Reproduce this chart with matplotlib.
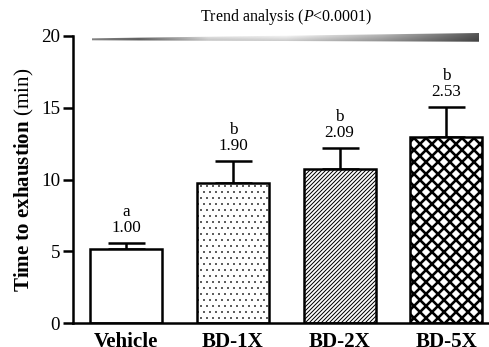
import numpy as np
import matplotlib.pyplot as plt
from matplotlib.patches import Polygon

plt.rcParams["font.family"] = ["Liberation Serif", "DejaVu Serif"]
plt.rcParams["mathtext.fontset"] = "custom"
plt.rcParams["mathtext.rm"] = "Liberation Serif"
plt.rcParams["mathtext.it"] = "Liberation Serif:italic"
plt.rcParams["mathtext.bf"] = "Liberation Serif:bold"

groups = ["Vehicle", "BD-1X", "BD-2X", "BD-5X"]
means = [5.13, 9.75, 10.72, 12.98]
sems = [0.45, 1.55, 1.45, 2.05]
letters = ["a", "b", "b", "b"]
fold = ["1.00", "1.90", "2.09", "2.53"]
hatches = [None, "..", "//////", "xx"]
hatch_lw = [1.0, 0.5, 1.0, 2.6]

DPI = 72
W, H = 489, 347
fig = plt.figure(figsize=(W / DPI, H / DPI), dpi=DPI)

# axes placed in pixel units
ax_l, ax_r, ax_b, ax_t = 73, 489, 24, 311
ax = fig.add_axes([ax_l / W, ax_b / H, (ax_r - ax_l) / W, (ax_t - ax_b) / H])

x = np.arange(len(groups))
for i in range(len(groups)):
    with plt.rc_context({"hatch.linewidth": hatch_lw[i], "hatch.color": "black"}):
        ax.bar(x[i], means[i], width=0.675, color="white", edgecolor="black",
               linewidth=2.5, hatch=hatches[i], zorder=2)
    ax.errorbar(x[i], means[i], yerr=[[0], [sems[i]]], fmt="none", ecolor="black",
                elinewidth=2.5, capsize=18.5, capthick=2.5, zorder=1)
    top = means[i] + sems[i]
    ax.annotate(fold[i], xy=(x[i], top), xytext=(0, 11), textcoords="offset points",
                ha="center", va="baseline", fontsize=17)
    ax.annotate(letters[i], xy=(x[i], top), xytext=(0, 27), textcoords="offset points",
                ha="center", va="baseline", fontsize=17)

ax.set_xlim(-0.5, 3.4)
ax.set_ylim(0, 20)
ax.set_yticks([0, 5, 10, 15, 20])
ax.set_xticks(x)
ax.set_xticklabels(groups, fontsize=21, fontweight="bold")
for lab in ax.get_xticklabels():
    lab.set_va("baseline")
ax.tick_params(axis="x", length=0, pad=24)
ax.tick_params(axis="y", length=10, width=2.5, labelsize=19, pad=3)
for s in ["top", "right"]:
    ax.spines[s].set_visible(False)
for s in ["left", "bottom"]:
    ax.spines[s].set_linewidth(2.5)

fig.text(24 / W, 1 - 180 / H, r"$\mathbf{Time\ to\ exhaustion}$ (min)",
         rotation=90, ha="center", va="center", fontsize=21)

# trend wedge with metallic gradient
wx0, wx1, wy_top, wy_bot = 92, 479, 33, 42
wax = fig.add_axes([wx0 / W, 1 - wy_bot / H, (wx1 - wx0) / W, (wy_bot - wy_top) / H])
wax.set_axis_off()
wax.set_xlim(0, 1)
wax.set_ylim(0, 1)
u = np.linspace(0, 1, 400)
base = np.interp(u, [0, 0.12, 0.3, 0.5, 0.75, 1.0], [0.55, 0.4, 0.85, 0.9, 0.65, 0.3])
v = np.linspace(0, 1, 40)[:, None]
shade = 0.85 + 0.3 * v
grad = np.clip(base[None, :] * shade, 0, 1)
img = wax.imshow(grad, cmap="gray", vmin=0, vmax=1, extent=(0, 1, 0, 1),
                 aspect="auto", origin="lower", interpolation="bilinear")
wedge = Polygon([(0, 0.19), (1, 0.03), (1, 1.0), (0, 0.41)], closed=True,
                transform=wax.transData, facecolor="none", edgecolor="none")
wax.add_patch(wedge)
img.set_clip_path(wedge)

fig.text(286 / W, 1 - 17 / H, r"Trend analysis ($\mathit{P}$<0.0001)",
         ha="center", va="center", fontsize=16)

fig.savefig("out.png", dpi=DPI)
